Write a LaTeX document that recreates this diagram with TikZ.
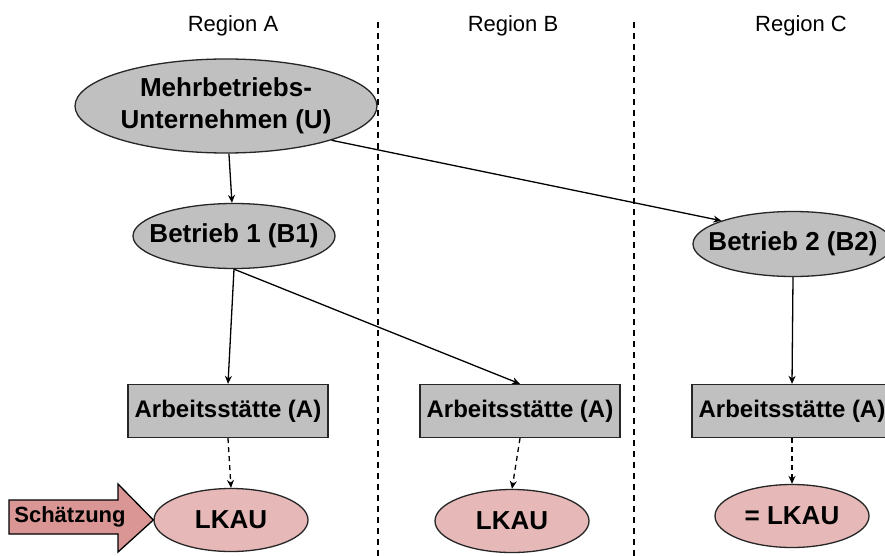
\documentclass[tikz,border=0pt]{standalone}
\usepackage{fontspec}
\setmainfont{Liberation Sans}
\usetikzlibrary{arrows.meta,shapes.geometric}
\definecolor{boxgrey}{HTML}{C0C0C0}
\definecolor{lkaupink}{HTML}{E6B9B8}
\definecolor{schaetzred}{HTML}{D99694}

\begin{document}
\begin{tikzpicture}[x=1pt,y=-1pt,
    >={Stealth[length=8pt,width=7pt]},
    ell/.style={ellipse, draw=black!85, line width=1.3pt, fill=boxgrey,
        inner xsep=-14pt, inner ysep=0pt, align=center,
        font=\bfseries\fontsize{26}{32}\selectfont},
    lkau/.style={ell, fill=lkaupink, minimum width=154pt, minimum height=63pt},
    stelle/.style={rectangle, draw=black!85, line width=1.3pt, fill=boxgrey,
        minimum width=200pt, minimum height=53pt, inner sep=0pt,
        font=\bfseries\fontsize{24}{28}\selectfont},
    pfeil/.style={->, line width=1.3pt},
    pfeilgestr/.style={->, line width=1.3pt, dash pattern=on 5pt off 4pt}]
  \useasboundingbox (0,0) rectangle (885,556);
  \clip (0,0) rectangle (885,556);
  \fill[white] (0,0) rectangle (885,556);

  % regions
  \foreach \x/\r in {233/A, 513/B, 801/C}{
      \node[font=\fontsize{22}{26}\selectfont] (reg\r) at (\x,26) {Region \r};
  }
  \foreach \x in {378, 634}{
      \draw[line width=1.2pt, dash pattern=on 6pt off 5pt] (\x,22) -- (\x,556);
  }

  \node[ell, minimum width=302pt, minimum height=94pt] (U) at (226,106) {Mehrbetriebs-\\Unternehmen (U)};
  \node[ell, minimum width=202pt, minimum height=65pt] (B1) at (234,236) {Betrieb 1 (B1)};
  \node[ell, minimum width=200pt, minimum height=65pt] (B2) at (793,244) {Betrieb 2 (B2)};

  \node[stelle] (A1) at (228,411) {Arbeitsstätte (A)};
  \node[stelle] (A2) at (520,411) {Arbeitsstätte (A)};
  \node[stelle] (A3) at (792,411) {Arbeitsstätte (A)};

  \node[lkau] (L1) at (231,520) {LKAU};
  \node[lkau] (L2) at (512,521) {LKAU};
  \node[lkau] (L3) at (792,516) {= LKAU};

  \draw[pfeil] (U) -- (B1);
  \draw[pfeil] (U.-18) -- (B2.162);
  \draw[pfeil] (B1.south) -- (A1.north);
  \draw[pfeil] (B1.south) -- (A2.north);
  \draw[pfeil] (B2.south) -- (A3.north);
  \foreach \a/\l in {A1/L1, A2/L2, A3/L3}{
      \draw[pfeilgestr] (\a.south) -- (\l.north);
  }

  % Schaetzung
  \draw[fill=schaetzred, line width=1.3pt] (9,500) -- (118,500) -- (118,484) -- (L1.west)
      -- (118,552) -- (118,534) -- (9,534) -- cycle;
  \node[font=\bfseries\fontsize{22}{26}\selectfont] (est) at (70,517) {Schätzung};
\end{tikzpicture}
\end{document}
